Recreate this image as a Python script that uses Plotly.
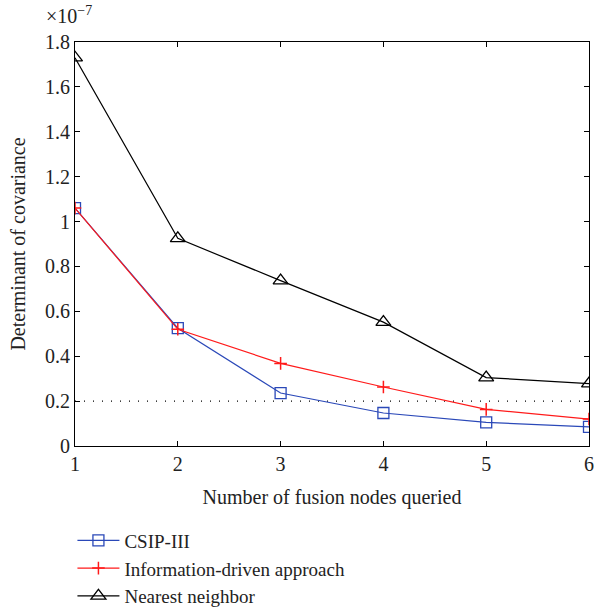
import plotly.graph_objects as go

# values in units of 1e-7
x_nodes = [1, 2, 3, 4, 5, 6]
csip = [1.06, 0.525, 0.236, 0.147, 0.105, 0.085]
info_driven = [1.06, 0.52, 0.368, 0.263, 0.163, 0.12]
nearest = [1.73, 0.925, 0.737, 0.552, 0.305, 0.278]
threshold = 0.2
y_ticks = [0, 0.2, 0.4, 0.6, 0.8, 1, 1.2, 1.4, 1.6, 1.8]
y_ticklabels = ["0", "0.2", "0.4", "0.6", "0.8", "1", "1.2", "1.4", "1.6", "1.8"]

FONT = "Liberation Serif"
FS = 20

fig = go.Figure()
fig.add_trace(go.Scatter(
    x=[x_nodes[0], x_nodes[-1]], y=[threshold, threshold], mode="lines",
    line=dict(color="black", width=1.2, dash="1px,8px"), showlegend=False, hoverinfo="skip"))
fig.add_trace(go.Scatter(
    x=x_nodes, y=csip, mode="lines+markers", name="CSIP-III",
    line=dict(color="#2a48b8", width=1.2),
    marker=dict(symbol="square-open", size=11, color="#2a48b8", line=dict(width=1.3))))
fig.add_trace(go.Scatter(
    x=x_nodes, y=info_driven, mode="lines+markers", name="Information-driven approach",
    line=dict(color="#ff1a1a", width=1.2),
    marker=dict(symbol="cross-thin", size=9, color="#ff1a1a", line=dict(width=1.5, color="#ff1a1a"))))
fig.add_trace(go.Scatter(
    x=x_nodes, y=nearest, mode="lines+markers", name="Nearest neighbor",
    line=dict(color="black", width=1.2),
    marker=dict(symbol="triangle-up-open", size=13, color="black", line=dict(width=1.3))))

fig.update_layout(
    width=594, height=610,
    margin=dict(l=75, r=5, t=42, b=164, autoexpand=False),
    paper_bgcolor="white", plot_bgcolor="white",
    font=dict(family=FONT, size=FS, color="#222"),
    showlegend=True,
    legend=dict(x=-0.005, y=-0.187, xanchor="left", yanchor="top",
                font=dict(family=FONT, size=19, color="#222"),
                bgcolor="rgba(0,0,0,0)", tracegroupgap=0, itemwidth=42),
    xaxis=dict(range=[1, 6], tickvals=x_nodes, ticks="inside", ticklen=5,
               showline=True, linecolor="black", linewidth=1, mirror="ticks",
               showgrid=False, zeroline=False, tickcolor="black", automargin=False,
               title=dict(text="Number of fusion nodes queried", standoff=15,
                          font=dict(family=FONT, size=FS))),
    yaxis=dict(range=[0, 1.8], tickvals=y_ticks, ticktext=y_ticklabels,
               ticks="inside", ticklen=5,
               showline=True, linecolor="black", linewidth=1, mirror="ticks",
               showgrid=False, zeroline=False, tickcolor="black", automargin=False,
               title=dict(text="Determinant of covariance", standoff=14,
                          font=dict(family=FONT, size=FS))),
)
fig.add_annotation(
    xref="paper", yref="paper", x=0, y=1, xanchor="center", yanchor="bottom",
    xshift=-6, yshift=13,
    text="×10<sup>−7</sup>", showarrow=False, font=dict(family=FONT, size=FS, color="#222"))

fig.write_html("out.html")
